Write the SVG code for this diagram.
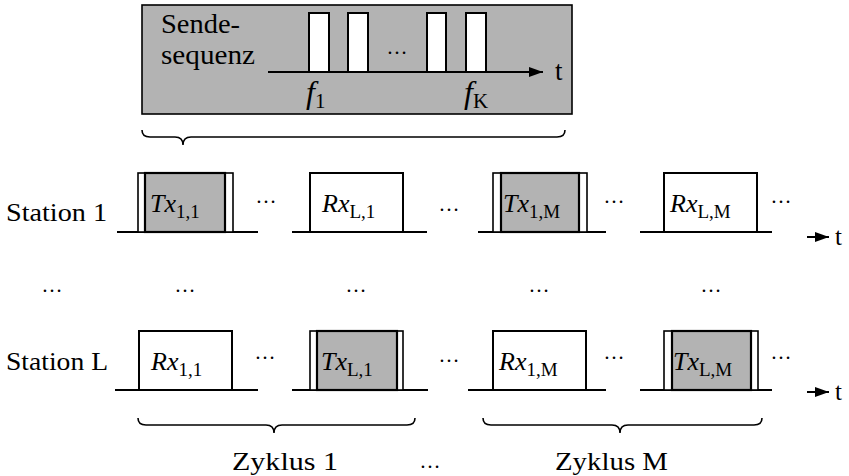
<svg xmlns="http://www.w3.org/2000/svg" width="849" height="476" viewBox="0 0 849 476">
<defs>
<style>
text{font-family:"Liberation Serif","Times New Roman",serif;fill:#000}
.lbl{font-size:25px}
.box{font-size:26px}
.it{font-style:italic}
.sub{font-size:19px}
.dots{font-size:21px;text-anchor:middle}
.ln{stroke:#000;stroke-width:2;fill:none}
.rx{fill:#fff;stroke:#000;stroke-width:2}
.txo{fill:#fff;stroke:#000;stroke-width:1.6}
.txi{fill:#b3b3b3;stroke:#000;stroke-width:2.2}
.brace{fill:none;stroke:#000;stroke-width:1.6}
</style>
<marker id="ah" viewBox="0 0 14 10" refX="14" refY="5" markerWidth="15" markerHeight="10" markerUnits="userSpaceOnUse" orient="auto">
<path d="M0,0 L14,5 L0,10 z" fill="#000"/>
</marker>
</defs>
<g font-family="Liberation Serif, serif">

<g id="sendesequenz">
<rect x="142" y="5" width="430" height="109" fill="#b3b3b3" stroke="#000" stroke-width="1.6"/>
<text x="161" y="33" style="font-size:28px" textLength="79" lengthAdjust="spacingAndGlyphs">Sende-</text>
<text x="161" y="64" style="font-size:28px" textLength="94" lengthAdjust="spacingAndGlyphs">sequenz</text>
<rect x="309" y="13" width="20" height="59" class="rx"/>
<rect x="348" y="13" width="20" height="59" class="rx"/>
<rect x="427" y="13" width="19" height="59" class="rx"/>
<rect x="466" y="13" width="20" height="59" class="rx"/>
<text x="397" y="54" class="dots">…</text>
<line x1="268" y1="72" x2="543" y2="72" stroke="#000" stroke-width="2" marker-end="url(#ah)"/>
<text x="555" y="80" style="font-size:27px">t</text>
<text x="306" y="103" style="font-size:32px"><tspan class="it">f</tspan><tspan dy="5" style="font-size:21px">1</tspan></text>
<text x="464" y="103" style="font-size:32px"><tspan class="it">f</tspan><tspan dy="5" style="font-size:21px">K</tspan></text>
</g>

<g id="brace-top"><path class="brace" d="M142,130 Q142,137 150,137 L175,137 Q183,137 183,145 Q183,137 191,137 L557,137 Q565,137 565,130"/></g>

<g id="station1">
<text x="6" y="221" class="lbl" textLength="101" lengthAdjust="spacingAndGlyphs">Station 1</text>
<g id="tx11">
<line class="ln" x1="117" y1="232" x2="258" y2="232"/>
<rect class="txo" x="138" y="173" width="95" height="59"/>
<rect class="txi" x="145" y="173" width="80" height="59"/>
<text x="150" y="212" class="box"><tspan class="it">Tx</tspan><tspan class="sub" dy="6">1,1</tspan></text>
</g>
<text x="266" y="203" class="dots">…</text>
<g id="rxL1">
<line class="ln" x1="292" y1="232" x2="427" y2="232"/>
<rect class="rx" x="310" y="173" width="93" height="59"/>
<text x="322" y="212" class="box"><tspan class="it">Rx</tspan><tspan class="sub" dy="6">L,1</tspan></text>
</g>
<text x="449" y="211" class="dots">…</text>
<g id="tx1M">
<line class="ln" x1="478" y1="232" x2="606" y2="232"/>
<rect class="txo" x="493" y="173" width="94" height="59"/>
<rect class="txi" x="501" y="173" width="78" height="59"/>
<text x="503" y="212" class="box"><tspan class="it">Tx</tspan><tspan class="sub" dy="6">1,M</tspan></text>
</g>
<text x="614" y="203" class="dots">…</text>
<g id="rxLM">
<line class="ln" x1="640" y1="232" x2="772" y2="232"/>
<rect class="rx" x="664" y="173" width="93" height="59"/>
<text x="670" y="212" class="box"><tspan class="it">Rx</tspan><tspan class="sub" dy="6">L,M</tspan></text>
</g>
<text x="781" y="203" class="dots">…</text>
</g>

<g id="dots-middle">
<text x="52" y="292" class="dots">…</text>
<text x="185" y="292" class="dots">…</text>
<text x="356" y="292" class="dots">…</text>
<text x="539" y="292" class="dots">…</text>
<text x="711" y="292" class="dots">…</text>
</g>

<g id="stationL">
<text x="6" y="370" class="lbl" textLength="102" lengthAdjust="spacingAndGlyphs">Station L</text>
<g id="rx11">
<line class="ln" x1="115" y1="390" x2="258" y2="390"/>
<rect class="rx" x="139" y="331" width="93" height="59"/>
<text x="151" y="370" class="box"><tspan class="it">Rx</tspan><tspan class="sub" dy="6">1,1</tspan></text>
</g>
<text x="265" y="359" class="dots">…</text>
<g id="txL1">
<line class="ln" x1="292" y1="390" x2="428" y2="390"/>
<rect class="txo" x="310" y="331" width="93" height="59"/>
<rect class="txi" x="317" y="331" width="80" height="59"/>
<text x="321" y="370" class="box"><tspan class="it">Tx</tspan><tspan class="sub" dy="6">L,1</tspan></text>
</g>
<text x="449" y="362" class="dots">…</text>
<g id="rx1M">
<line class="ln" x1="468" y1="390" x2="606" y2="390"/>
<rect class="rx" x="493" y="331" width="93" height="59"/>
<text x="499" y="370" class="box"><tspan class="it">Rx</tspan><tspan class="sub" dy="6">1,M</tspan></text>
</g>
<text x="614" y="359" class="dots">…</text>
<g id="txLM">
<line class="ln" x1="640" y1="390" x2="772" y2="390"/>
<rect class="txo" x="664" y="331" width="94" height="59"/>
<rect class="txi" x="672" y="331" width="79" height="59"/>
<text x="673" y="370" class="box"><tspan class="it">Tx</tspan><tspan class="sub" dy="6">L,M</tspan></text>
</g>
<text x="781" y="359" class="dots">…</text>
</g>

<g id="connectors">
<line x1="807" y1="237" x2="829" y2="237" stroke="#000" stroke-width="2" marker-end="url(#ah)"/>
<text x="835" y="245" style="font-size:25px">t</text>
<line x1="807" y1="392" x2="829" y2="392" stroke="#000" stroke-width="2" marker-end="url(#ah)"/>
<text x="835" y="400" style="font-size:25px">t</text>
</g>

<g id="braces">
<path class="brace" d="M138,418 Q138,425 146,425 L266,425 Q274,425 274,433 Q274,425 282,425 L407,425 Q415,425 415,418"/>
<path class="brace" d="M483,418 Q483,425 491,425 L612,425 Q620,425 620,433 Q620,425 628,425 L754,425 Q762,425 762,418"/>
</g>
<text x="232" y="470" class="lbl" textLength="106" lengthAdjust="spacingAndGlyphs">Zyklus 1</text>
<text x="430" y="468" class="dots">…</text>
<text x="555" y="470" class="lbl" textLength="113" lengthAdjust="spacingAndGlyphs">Zyklus M</text>
</g>
</svg>
